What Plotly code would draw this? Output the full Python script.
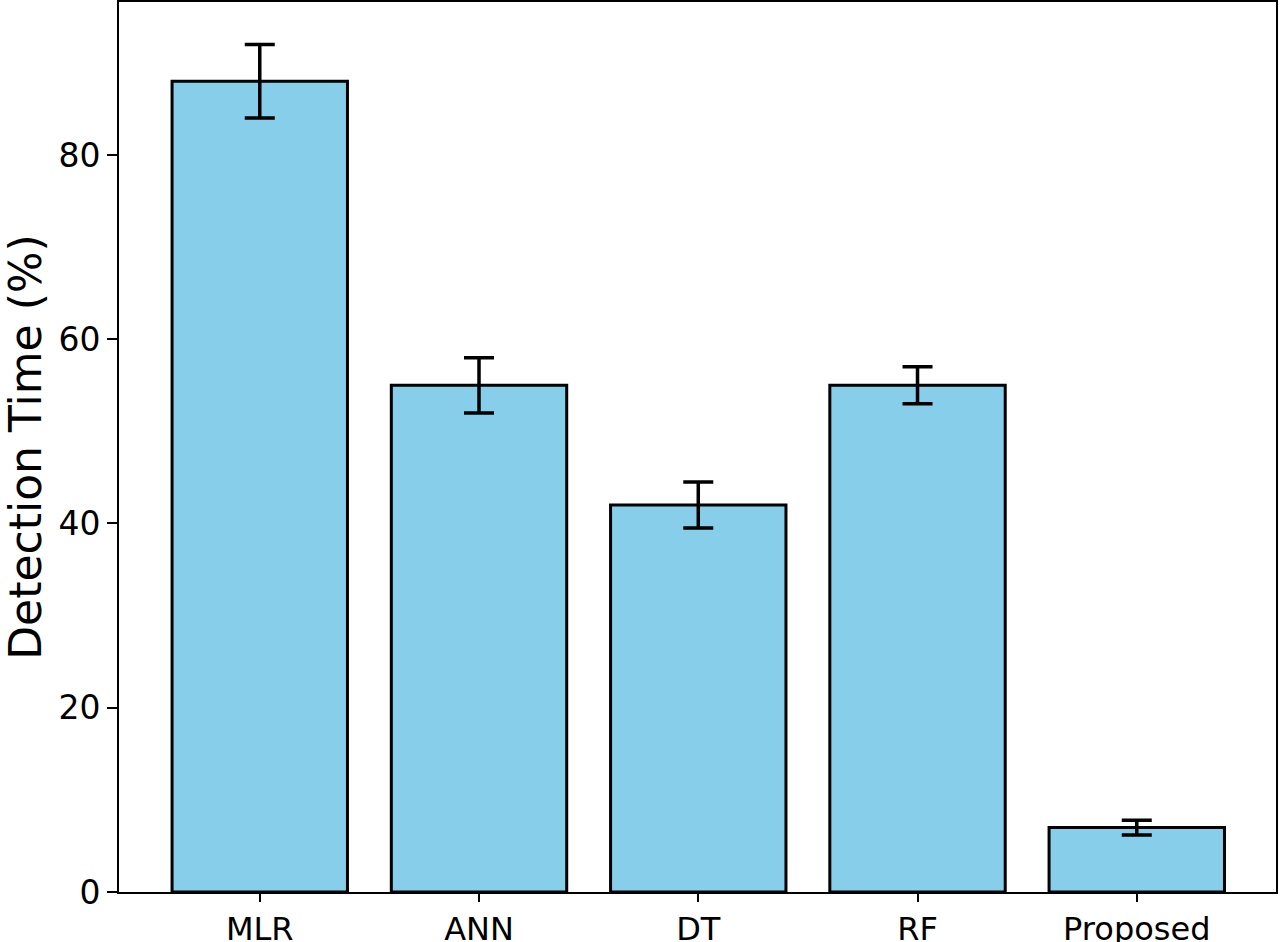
import plotly.graph_objects as go

categories = ["MLR", "ANN", "DT", "RF", "Proposed"]
values = [88, 55, 42, 55, 7]
errors = [4, 3, 2.5, 2, 0.8]
y_ticks = [0, 20, 40, 60, 80]

fig = go.Figure()
fig.add_trace(go.Bar(
    x=list(range(len(categories))),
    y=values,
    width=0.8,
    marker=dict(color="#87CEEB", line=dict(color="black", width=3)),
    error_y=dict(type="data", array=errors, visible=True, color="black",
                 thickness=3.5, width=15),
))

font = "DejaVu Sans"
fig.update_layout(
    width=1280, height=942,
    margin=dict(l=119, r=4, t=2, b=50),
    plot_bgcolor="white", paper_bgcolor="white",
    showlegend=False,
    font=dict(family=font, color="black"),
    xaxis=dict(
        range=[-0.642, 4.635],
        tickmode="array", tickvals=list(range(len(categories))), ticktext=categories,
        ticks="outside", ticklen=8, tickwidth=2, tickcolor="black",
        tickfont=dict(size=32, family=font),
        showline=True, linecolor="black", linewidth=2, mirror=True,
        showgrid=False, zeroline=False, automargin=False,
    ),
    yaxis=dict(
        range=[0, 96.6],
        tickmode="array", tickvals=y_ticks,
        ticks="outside", ticklen=10, tickwidth=2, tickcolor="black",
        tickfont=dict(size=33, family=font),
        showline=True, linecolor="black", linewidth=2, mirror=True,
        showgrid=False, zeroline=False, automargin=False,
        title=dict(text="Detection Time (%)", font=dict(size=44, family=font), standoff=8),
    ),
)

fig.write_html("out.html", config={"displayModeBar": False},
               post_script="document.body.style.margin='0px';")
